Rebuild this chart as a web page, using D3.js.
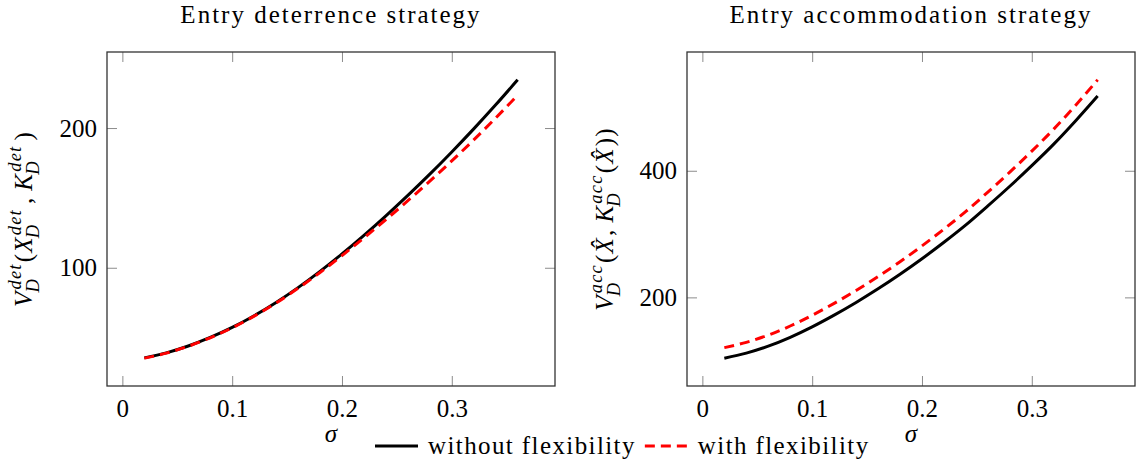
<!DOCTYPE html>
<html>
<head>
<meta charset="utf-8">
<script src="https://cdn.jsdelivr.net/npm/d3@7"></script>
<style>
  body { margin: 0; background: #fff; }
</style>
</head>
<body>
<svg id="chart" width="1142" height="467"></svg>
<script>
// Volatility grid (sigma) shared by both panels
const sigma = [0.02, 0.04, 0.06, 0.08, 0.10, 0.12, 0.14, 0.16, 0.18,
               0.20, 0.22, 0.24, 0.26, 0.28, 0.30, 0.32, 0.34, 0.36];

// Entry deterrence: firm value without / with flexibility
const detWithout = [35.5, 39.1, 44, 50.1, 57.3, 65.7, 75.2, 85.8, 97.4,
                    109.9, 123.2, 137.2, 151.8, 167, 182.9, 199.4, 216.6, 234.5];
const detWith    = [35.3, 38.9, 43.8, 49.9, 57, 65.4, 74.8, 85.3, 96.6,
                    108.7, 121.4, 134.5, 148, 162, 176.5, 191.5, 207.2, 223.5];

// Entry accommodation: firm value without / with flexibility
const accWithout = [104, 112, 123, 137, 153.5, 172, 192, 213.5, 236.5,
                    261, 287, 314.5, 344.5, 375.5, 408, 442, 479, 518];
const accWith    = [120.6, 129, 140.4, 154.8, 171.7, 190.6, 211, 232.9, 256.3,
                    281.3, 307.8, 335.8, 366.3, 397.9, 431, 465.7, 503.6, 543.6];

// Axis ticks
const xTicks = [0, 0.1, 0.2, 0.3];
const xTickLabels = ["0", "0.1", "0.2", "0.3"];
const detYTicks = [100, 200];
const accYTicks = [200, 400];

const titles = ["Entry deterrence strategy", "Entry accommodation strategy"];
const seriesNames = ["without flexibility", "with flexibility"];

// ---------------------------------------------------------------
const svg = d3.select("#chart");
const FONT = '"Liberation Serif", "Times New Roman", serif';
const FS = 25;                 // base font size
const TOP = 52, BOTTOM = 386, W = 448;
const panelLeft = [107, 687];

const styles = {
  without: { color: "#000", dash: null },
  with:    { color: "#ff0000", dash: "10 6" }
};

// every text element gets the serif face explicitly
function txt(sel, size, italic) {
  return sel.style("font-family", FONT)
    .style("font-size", size + "px")
    .style("font-style", italic ? "italic" : "normal")
    .attr("fill", "#000");
}

// pgfplots-style limits: data range widened by 10% on each side
function padded(arr) {
  const [lo, hi] = d3.extent(arr);
  const p = 0.1 * (hi - lo);
  return [lo - p, hi + p];
}

// Lays out a run of math pieces (base glyphs with optional sub/superscripts)
function mathRun(g, parts) {
  const ls = "1.2px";
  let x = 0;
  parts.forEach(p => {
    x += p.gap || 0;
    const base = txt(g.append("text").attr("x", x).attr("y", 0), FS, p.it)
      .style("letter-spacing", ls).text(p.t);
    x += base.node().getComputedTextLength();
    let w = 0;
    if (p.sup) {
      const s = txt(g.append("text").attr("x", x + 1).attr("y", -0.44 * FS), 0.74 * FS, true)
        .style("letter-spacing", ls).text(p.sup);
      w = Math.max(w, s.node().getComputedTextLength() + 1);
    }
    if (p.sub) {
      const s = txt(g.append("text").attr("x", x - 2).attr("y", 0.26 * FS), 0.74 * FS, true)
        .text(p.sub);
      w = Math.max(w, s.node().getComputedTextLength() - 2);
    }
    x += w;
  });
  return x;
}

const yLabels = [
  [
    { t: "V", it: true, sup: "det", sub: "D" },
    { t: "(", gap: 1 },
    { t: "X", it: true, sup: "det", sub: "D" },
    { t: ",", gap: 5 },
    { t: "K", it: true, sup: "det", sub: "D", gap: 6 },
    { t: ")", gap: 5 }
  ],
  [
    { t: "V", it: true, sup: "acc", sub: "D" },
    { t: "(", gap: 1 },
    { t: "X\u0302", it: true },
    { t: ",", gap: 1 },
    { t: "K", it: true, sup: "acc", sub: "D", gap: 6 },
    { t: "(", gap: 1 },
    { t: "X\u0302", it: true },
    { t: "))", gap: 1 }
  ]
];

const panels = [
  { title: titles[0], yTicks: detYTicks, without: detWithout, with: detWith, label: yLabels[0], labelX: 32 },
  { title: titles[1], yTicks: accYTicks, without: accWithout, with: accWith, label: yLabels[1], labelX: 613 }
];

panels.forEach((pn, i) => {
  const x0 = panelLeft[i], x1 = x0 + W;
  const x = d3.scaleLinear().domain(padded(sigma)).range([x0, x1]);
  const y = d3.scaleLinear().domain(padded(pn.without.concat(pn.with))).range([BOTTOM, TOP]);

  const g = svg.append("g");

  // inward ticks on all four sides
  const tickStyle = sel => {
    sel.select(".domain").remove();
    sel.selectAll(".tick line").attr("stroke", "#8c8c8c").attr("stroke-width", 1);
    txt(sel.selectAll(".tick text"), FS, false);
  };

  g.append("g").attr("transform", `translate(0,${BOTTOM})`)
    .call(d3.axisBottom(x).tickValues(xTicks).tickSizeInner(-10).tickSizeOuter(0)
      .tickPadding(13).tickFormat((d, k) => xTickLabels[k]))
    .call(tickStyle);
  g.append("g").attr("transform", `translate(0,${TOP})`)
    .call(d3.axisTop(x).tickValues(xTicks).tickSizeInner(-10).tickSizeOuter(0).tickFormat(""))
    .call(tickStyle);
  g.append("g").attr("transform", `translate(${x0},0)`)
    .call(d3.axisLeft(y).tickValues(pn.yTicks).tickSizeInner(-10).tickSizeOuter(0)
      .tickPadding(10).tickFormat(d3.format("d")))
    .call(tickStyle);
  g.append("g").attr("transform", `translate(${x1},0)`)
    .call(d3.axisRight(y).tickValues(pn.yTicks).tickSizeInner(-10).tickSizeOuter(0).tickFormat(""))
    .call(tickStyle);

  // curves
  const line = d3.line().x((d, k) => x(sigma[k])).y(d => y(d)).curve(d3.curveMonotoneX);
  ["without", "with"].forEach(key => {
    g.append("path")
      .datum(pn[key])
      .attr("d", line)
      .attr("fill", "none")
      .attr("stroke", styles[key].color)
      .attr("stroke-width", 3)
      .attr("stroke-dasharray", styles[key].dash);
  });

  // axis frame
  g.append("rect")
    .attr("x", x0).attr("y", TOP)
    .attr("width", W).attr("height", BOTTOM - TOP)
    .attr("fill", "none").attr("stroke", "#333").attr("stroke-width", 1.3);

  // title
  txt(g.append("text")
    .attr("x", (x0 + x1) / 2).attr("y", 23)
    .attr("text-anchor", "middle"), FS, false)
    .style("letter-spacing", "2px")
    .text(pn.title);

  // x-axis label
  txt(g.append("text")
    .attr("x", (x0 + x1) / 2).attr("y", 442)
    .attr("text-anchor", "middle"), FS, true)
    .text("\u03c3");

  // y-axis label (rotated math)
  const lg = g.append("g")
    .attr("transform", `translate(${pn.labelX},${(TOP + BOTTOM) / 2}) rotate(-90)`);
  const inner = lg.append("g");
  const wLab = mathRun(inner, pn.label);
  inner.attr("transform", `translate(${-wLab / 2},0)`);
});

// legend
const leg = svg.append("g").attr("transform", "translate(375,446)");
let lx = 0;
["without", "with"].forEach((key, k) => {
  leg.append("line")
    .attr("x1", lx).attr("x2", lx + 43)
    .attr("y1", 0).attr("y2", 0)
    .attr("stroke", styles[key].color)
    .attr("stroke-width", 3)
    .attr("stroke-dasharray", styles[key].dash);
  const t = txt(leg.append("text").attr("x", lx + 53).attr("y", 8), FS, false)
    .style("letter-spacing", "1.4px")
    .text(seriesNames[k]);
  lx += 53 + t.node().getComputedTextLength() + 9;
});
</script>
</body>
</html>
